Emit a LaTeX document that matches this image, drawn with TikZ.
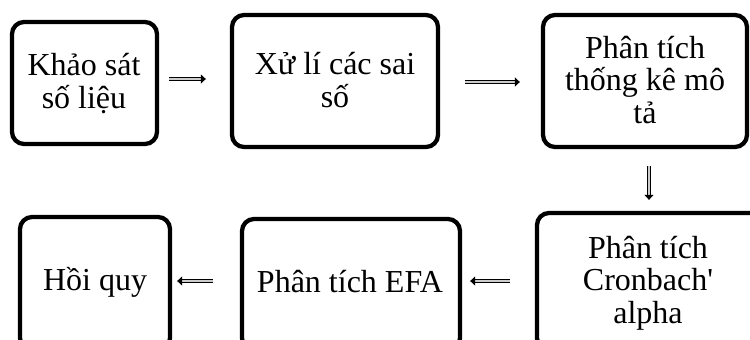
\documentclass[tikz,border=0pt]{standalone}
\usepackage{fontspec}
\setmainfont{Liberation Serif}
\usetikzlibrary{arrows.meta}
\begin{document}
\begin{tikzpicture}[x=1pt, y=-1pt,
  box/.style={draw=black, line width=4.3pt, rounded corners=12pt, inner sep=0pt},
  txt/.style={font=\fontsize{32}{32.5}\selectfont, align=center, inner sep=0pt, anchor=base},
  conn/.style={draw=black, line width=1pt, double=gray!40, double distance=2.4pt,
    -{Triangle[length=5pt,width=9pt]}}]
  \useasboundingbox (0,0) rectangle (750,340);
  \clip (0,0) rectangle (750,340);

  % top row
  \node[box, minimum width=145pt, minimum height=122pt] (b1) at (84.5,83) {};
  \node[box, minimum width=206pt, minimum height=132pt] (b2) at (335,81) {};
  \node[box, minimum width=204pt, minimum height=132pt] (b3) at (645,81) {};
  % bottom row (runs past the lower edge)
  \node[box, minimum width=150pt, minimum height=133pt] (b4) at (95,283.5) {};
  \node[box, minimum width=218pt, minimum height=131pt] (b5) at (351,284.5) {};
  \node[box, minimum width=233pt, minimum height=137pt] (b6) at (653.5,281.5) {};

  % labels (base anchor sits on the last line)
  \node[txt] (t1) at (84,108) {Khảo sát\\số liệu};
  \node[txt] (t2) at (335,107) {Xử lí các sai\\số};
  \node[txt] (t3) at (645,123) {Phân tích\\thống kê mô\\tả};
  \node[txt] (t4) at (95,290) {Hồi quy};
  \node[txt] (t5) at (350,292) {Phân tích EFA};
  \node[txt] (t6) at (648,323) {Phân tích\\Cronbach\textquotesingle\\alpha};

  % flow arrows
  \draw[conn, shorten <=10pt, shorten >=24pt] ([yshift=4pt]b1.east) -- ([yshift=2pt]b2.west);
  \draw[conn, shorten <=25pt, shorten >=21pt] ([yshift=-1pt]b2.east) -- ([yshift=-1pt]b3.west);
  \draw[conn, shorten <=17pt, shorten >=11pt] ([xshift=4pt]b3.south) -- ([xshift=-4.5pt]b6.north);
  \draw[conn, shorten <=25pt, shorten >=8pt] ([yshift=0.5pt]b6.west) -- ([yshift=3.5pt]b5.east);
  \draw[conn, shorten <=27pt, shorten >=5pt] ([yshift=3.5pt]b5.west) -- ([yshift=2.5pt]b4.east);
\end{tikzpicture}
\end{document}
